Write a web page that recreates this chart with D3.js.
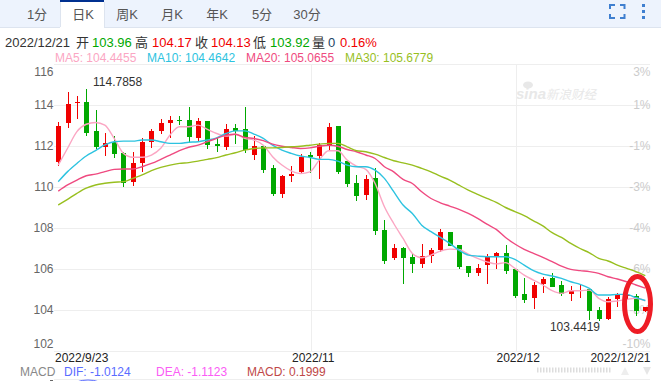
<!DOCTYPE html>
<html>
<head>
<meta charset="utf-8">
<script src="https://cdn.jsdelivr.net/npm/d3@7"></script>
<style>
  html, body { margin: 0; padding: 0; background: #fff; overflow: hidden; }
  svg { display: block; font-family: "Liberation Sans", "Noto Sans CJK SC", sans-serif; }
</style>
</head>
<body>
<svg width="661" height="381"></svg>
<script>
const opens = [111.24,113.14,114.10,114.13,112.73,111.95,112.18,111.64,110.23,111.19,112.21,112.75,113.12,113.27,113.27,
  112.37,113.22,112.09,111.95,112.87,112.83,111.56,111.99,110.92,109.65,110.53,110.73,111.56,111.51,112.04,112.97,111.26,
  110.19,109.60,110.43,107.90,106.53,107.02,106.58,106.24,106.63,106.92,107.80,107.17,106.14,105.80,106.19,106.63,
  106.78,106.00,104.78,104.58,105.27,105.56,105.22,104.78,104.92,105.02,104.00,103.56,104.53,104.70,104.68,103.96];
const closes = [112.98,114.05,114.13,112.65,111.97,112.13,111.61,110.18,111.15,112.18,112.73,113.12,113.27,113.24,112.46,
  113.22,112.04,112.01,112.83,112.74,111.80,111.99,110.83,109.65,110.53,110.63,111.48,111.46,112.04,112.92,110.73,110.14,
  109.56,110.39,107.85,106.39,107.02,106.53,106.24,106.63,106.92,107.80,107.12,106.09,105.80,106.04,106.58,106.78,
  105.92,104.68,104.49,105.22,105.51,105.12,104.78,104.92,104.97,103.95,103.56,104.53,104.73,104.74,103.95,104.13];
const highs = [113.19,114.62,114.44,114.7858,113.76,112.62,112.49,111.70,111.69,112.37,112.83,113.30,113.46,113.46,113.89,
  113.39,113.22,112.37,113.07,113.07,113.88,112.48,111.99,111.07,110.57,111.02,111.61,111.72,112.13,113.12,112.97,111.26,
  110.58,110.58,110.95,108.39,107.21,107.07,106.73,107.21,107.02,107.95,107.80,107.17,106.14,106.24,106.73,106.82,
  107.17,106.00,105.56,105.36,105.61,105.80,105.41,105.17,105.22,105.07,104.14,104.63,104.83,104.82,104.78,104.17];
const lows = [111.04,112.86,113.30,112.49,111.85,111.51,111.43,110.02,110.05,110.75,111.92,112.57,112.41,113.03,112.13,
  112.21,111.85,111.72,111.80,112.09,111.67,111.31,110.70,109.56,109.48,110.24,110.63,110.66,110.37,111.77,110.63,110.01,
  109.31,109.39,107.65,106.24,106.43,105.26,105.80,106.03,106.29,106.82,107.12,105.99,105.59,105.65,105.26,105.99,
  105.75,104.58,104.34,104.05,104.83,105.12,104.68,104.44,104.58,103.51,103.4419,103.51,104.14,104.50,103.70,103.92];

const ma5 = [111.07,111.89,112.70,113.06,113.15,113.02,112.37,111.64,111.45,111.45,111.56,111.89,112.54,112.94,112.94,
  113.02,112.81,112.61,112.48,112.57,112.37,112.29,112.04,111.48,111.07,110.79,110.66,110.74,111.31,111.77,111.77,111.31,
  111.02,110.86,110.17,109.04,108.22,107.49,106.76,106.55,106.68,106.87,106.97,106.95,106.73,106.52,106.35,106.25,
  106.31,106.03,105.70,105.46,105.22,104.94,104.81,104.94,104.94,104.97,104.57,104.40,104.44,104.52,104.57,104.4455];
const ma10 = [110.26,110.75,111.15,111.51,111.77,112.05,112.21,112.24,112.24,112.29,112.29,112.21,112.13,112.13,112.18,
  112.21,112.29,112.40,112.61,112.74,112.74,112.58,112.37,112.04,111.80,111.64,111.51,111.44,111.35,111.35,111.26,111.07,
  110.99,110.99,110.82,110.42,109.77,109.12,108.71,108.14,107.82,107.54,107.25,106.92,106.68,106.63,106.60,106.60,
  106.60,106.47,106.19,105.92,105.75,105.66,105.54,105.38,105.25,105.05,104.73,104.73,104.76,104.76,104.60,104.4642];
const ma20 = [109.80,110.10,110.34,110.55,110.63,110.75,110.86,110.88,110.88,110.99,111.15,111.35,111.56,111.77,111.94,
  112.04,112.21,112.37,112.53,112.57,112.42,112.37,112.26,112.09,111.99,111.93,111.88,111.91,111.99,112.04,111.99,111.83,
  111.72,111.56,111.39,110.99,110.74,110.37,110.17,109.77,109.44,109.23,109.07,108.91,108.71,108.47,108.19,107.93,
  107.54,107.22,106.96,106.76,106.57,106.36,106.14,105.98,105.92,105.87,105.79,105.62,105.51,105.38,105.22,105.0655];
const ma30 = [109.12,109.40,109.69,109.94,110.10,110.18,110.23,110.26,110.42,110.59,110.80,110.96,111.07,111.15,111.19,
  111.26,111.35,111.43,111.56,111.67,111.80,111.88,111.91,111.91,111.93,111.96,111.99,112.04,112.09,112.13,112.13,111.96,
  111.77,111.72,111.60,111.44,111.28,111.18,111.07,110.91,110.74,110.53,110.34,110.09,109.85,109.64,109.44,109.25,
  109.00,108.80,108.60,108.35,108.10,107.77,107.54,107.25,107.00,106.79,106.52,106.39,106.19,106.03,105.87,105.6779];

const priceTicks = [116, 114, 112, 110, 108, 106, 104, 102];
const pctLabels = ["3%", "1%", "-1%", "-3%", "-4%", "-6%", "-8%", "-10%"];
const dateTicks = [[0, "2022/9/23"], [27, "2022/11"], [49, "2022/12"], [63, "2022/12/21"]];
const tabs = ["1分", "日K", "周K", "月K", "年K", "5分", "30分"];
const tabCenters = [37, 83, 127, 172, 217, 262, 307];

const red = "#f00000";
const green = "#00a800";
const maColors = ["#fba6c3", "#2dc3e0", "#ef4a80", "#98bf1f"];

const svg = d3.select("svg");
const left = 53.6;
const right = 650;
const top_ = 64;
const bottom = 351;

const x = d3.scaleBand().domain(d3.range(opens.length)).range([left, right]);
const y = d3.scaleLinear().domain([102, 116]).range([bottom, top_]);
const cx = (i) => Math.round(x(i) + x.bandwidth() / 2);

// tab bar
svg.append("rect").attr("width", 661).attr("height", 27).attr("fill", "#edf3fd");
svg.append("rect").attr("y", 27).attr("width", 661).attr("height", 1).attr("fill", "#dde4ef");
svg.append("rect").attr("x", 60).attr("width", 44).attr("height", 28).attr("fill", "#fff");
svg.append("rect").attr("x", 60).attr("width", 44).attr("height", 2).attr("fill", "#003090");
svg.append("rect").attr("x", 104).attr("y", 2).attr("width", 1).attr("height", 25).attr("fill", "#dde4ef");
svg.append("rect").attr("x", 60).attr("y", 2).attr("width", 1).attr("height", 25).attr("fill", "#dde4ef");
svg.selectAll(".tab").data(tabs).enter().append("text")
  .attr("x", (d, i) => tabCenters[i])
  .attr("y", 18.5)
  .attr("text-anchor", "middle")
  .attr("font-size", 13)
  .attr("fill", "#555")
  .text((d) => d);

// fullscreen + menu icons
svg.append("path")
  .attr("d", "M610 9V5H615 M620 5H624.5V9 M624.5 14V18H620 M615 18H610V14")
  .attr("fill", "none").attr("stroke", "#3f7fd0").attr("stroke-width", 2);
[4, 10, 16].forEach((t) => {
  svg.append("rect").attr("x", 642).attr("y", t).attr("width", 3).attr("height", 3).attr("fill", "#3f7fd0");
});

// info lines
const info = [
  [5, "2022/12/21", "#333"], [76, "开", "#333"], [92, "103.96", green],
  [135, "高", "#333"], [152, "104.17", red], [195, "收", "#333"], [211, "104.13", red],
  [253, "低", "#333"], [270, "103.92", green], [312, "量", "#333"], [328, "0", "#246"], [340, "0.16%", red],
];
info.forEach((d) => {
  svg.append("text").attr("x", d[0]).attr("y", 47).attr("font-size", 13).attr("fill", d[2]).text(d[1]);
});
const maText = [[55, "MA5: 104.4455"], [147, "MA10: 104.4642"], [246, "MA20: 105.0655"], [345, "MA30: 105.6779"]];
maText.forEach((d, i) => {
  svg.append("text").attr("x", d[0]).attr("y", 62).attr("font-size", 12).attr("fill", maColors[i]).text(d[1]);
});

// watermark
const wm = svg.append("g").attr("fill", "#e8e8e8");
wm.append("text").attr("x", 516).attr("y", 99).attr("font-size", 15).attr("font-weight", "bold")
  .attr("font-style", "italic").text("sina");
wm.append("text").attr("x", 546).attr("y", 99).attr("font-size", 12.5)
  .attr("font-style", "italic").text("新浪财经");
wm.append("ellipse").attr("cx", 528).attr("cy", 85).attr("rx", 5).attr("ry", 3.5);

// grid
const grid = svg.append("g").attr("stroke", "#eeeeee").attr("shape-rendering", "crispEdges");
grid.selectAll("line.h").data(priceTicks).enter().append("line")
  .attr("x1", left).attr("x2", right)
  .attr("y1", (d) => Math.round(y(d)) + 0.5).attr("y2", (d) => Math.round(y(d)) + 0.5);
grid.selectAll("line.v").data(dateTicks.slice(1, 3)).enter().append("line")
  .attr("x1", (d) => x(d[0]) + 6.6).attr("x2", (d) => x(d[0]) + 6.6)
  .attr("y1", top_).attr("y2", bottom);

// price labels
svg.selectAll(".price").data(priceTicks).enter().append("text")
  .attr("x", 53.5)
  .attr("y", (d, i) => y(d) + (i === 0 ? 12 : i === priceTicks.length - 1 ? -3 : 4))
  .attr("text-anchor", "end").attr("font-size", 12).attr("fill", "#666")
  .text((d) => d);
svg.selectAll(".pct").data(pctLabels).enter().append("text")
  .attr("x", 650.5)
  .attr("y", (d, i) => y(priceTicks[i]) + (i === 0 ? 12 : i === priceTicks.length - 1 ? -3 : 4))
  .attr("text-anchor", "end").attr("font-size", 12).attr("fill", "#cccccc")
  .text((d) => d);

// candles
const candles = svg.append("g").attr("shape-rendering", "crispEdges");
opens.forEach((o, i) => {
  const c = closes[i];
  const color = c >= o ? red : green;
  candles.append("rect")
    .attr("x", cx(i)).attr("width", 1)
    .attr("y", y(highs[i])).attr("height", y(lows[i]) - y(highs[i]))
    .attr("fill", color);
  candles.append("rect")
    .attr("x", cx(i) - 2).attr("width", 5)
    .attr("y", y(Math.max(o, c))).attr("height", Math.max(1, Math.abs(y(o) - y(c))))
    .attr("fill", color);
});

// moving averages
const line = d3.line()
  .x((d, i) => x(i) + x.bandwidth() / 2)
  .y((d) => y(d))
  .curve(d3.curveMonotoneX);
[ma5, ma10, ma20, ma30].forEach((series, i) => {
  svg.append("path").attr("d", line(series))
    .attr("fill", "none").attr("stroke", maColors[i]).attr("stroke-width", 1.4);
});

// high / low labels
svg.append("text").attr("x", 93).attr("y", y(114.7858) - 3)
  .attr("font-size", 12).attr("fill", "#333").text("114.7858");
svg.append("text").attr("x", cx(58) + 1).attr("y", y(103.4419) + 10)
  .attr("text-anchor", "end").attr("font-size", 12).attr("fill", "#333").text("103.4419");

// hand drawn circle around the last candles
svg.append("ellipse")
  .attr("cx", 637.5).attr("cy", 304).attr("rx", 13).attr("ry", 27.5)
  .attr("fill", "none").attr("stroke", "#ee1c25").attr("stroke-width", 5);

// date axis labels
dateTicks.forEach((d, i) => {
  const t = svg.append("text").attr("y", 362).attr("font-size", 12).attr("fill", "#222").text(d[1]);
  if (i === 0) t.attr("x", 55);
  else if (i === 3) t.attr("x", 650.5).attr("text-anchor", "end");
  else t.attr("x", x(d[0]) + 8).attr("text-anchor", "middle");
});

// macd row
const macd = [[20, "MACD", "#888"], [64, "DIF: -1.0124", "#5a6cff"], [156, "DEA: -1.1123", "#fb5cf5"], [247, "MACD: 0.1999", "#c04848"]];
macd.forEach((d) => {
  svg.append("text").attr("x", d[0]).attr("y", 375.5).attr("font-size", 12).attr("fill", d[2]).text(d[1]);
});
svg.append("rect").attr("x", 54).attr("y", 379).attr("width", 596).attr("height", 1).attr("fill", "#eeeeee");
svg.append("ellipse").attr("cx", 88).attr("cy", 386).attr("rx", 15).attr("ry", 6)
  .attr("fill", "none").attr("stroke", "#5a6cff");
svg.append("rect").attr("x", 50).attr("y", 380).attr("width", 3).attr("height", 1).attr("fill", "#666");

// zoom slider stub
svg.append("line").attr("x1", 537).attr("x2", 611).attr("y1", 370).attr("y2", 370)
  .attr("stroke", "#ddd").attr("stroke-width", 5).attr("stroke-dasharray", "1.5 1.5");
svg.append("path").attr("d", "M621 375L625 367L629 375Z").attr("fill", "#eeeeee");
svg.append("path").attr("d", "M643 367L651 367L647 375Z").attr("fill", "#e6e6e6");
</script>
</body>
</html>
